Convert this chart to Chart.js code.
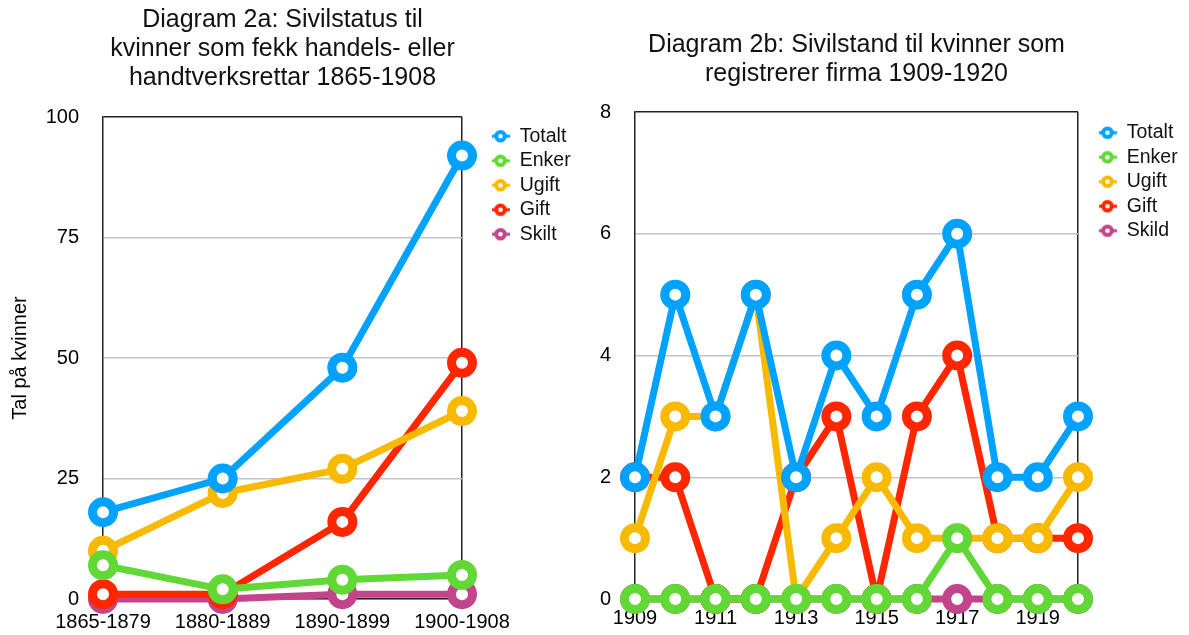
<!DOCTYPE html>
<html>
<head>
<meta charset="utf-8">
<script src="https://cdn.jsdelivr.net/npm/chart.js@4"></script>
<style>
  body { margin: 0; background: #fff; width: 1189px; height: 635px; position: relative; overflow: hidden; }
  canvas { position: absolute; top: 0; }
  #diagram2a { left: 0; }
  #diagram2b { left: 560px; }
</style>
</head>
<body>
<canvas id="diagram2a" width="590" height="635"></canvas>
<canvas id="diagram2b" width="629" height="635"></canvas>
<script>
// Diagram 2a: handels- eller handtverksrettar 1865-1908
const periodar = ["1865-1879", "1880-1889", "1890-1899", "1900-1908"];
const totaltA = [18, 25, 48, 92];
const enkerA = [7, 2, 4, 5];
const ugiftA = [10, 22, 27, 39];
const giftA = [1, 1, 16, 49];
const skiltA = [0, 0, 1, 1];
const yTicksA = [0, 25, 50, 75, 100];

// Diagram 2b: registrerte firma 1909-1920
const aar = ["1909", "1910", "1911", "1912", "1913", "1914", "1915", "1916", "1917", "1918", "1919", "1920"];
const totaltB = [2, 5, 3, 5, 2, 4, 3, 5, 6, 2, 2, 3];
const enkerB = [0, 0, 0, 0, 0, 0, 0, 0, 1, 0, 0, 0];
const ugiftB = [1, 3, 3, 5, 0, 1, 2, 1, 1, 1, 1, 2];
const giftB = [2, 2, 0, 0, 2, 3, 0, 3, 4, 1, 1, 1];
const skildB = [0, 0, 0, 0, 0, 0, 0, 0, 0, 0, 0, 0];
const yTicksB = [0, 2, 4, 6, 8];

const fargar = ["#00a2ff", "#61d836", "#f8ba00", "#ff2600", "#c2458b"];

Chart.defaults.font.family = '"Liberation Sans", Arial, Helvetica, sans-serif';
Chart.defaults.color = "#000";

// liten markør med strek på kvar side, som i originalen
function lagMerke(farge) {
    const c = document.createElement("canvas");
    c.width = 18;
    c.height = 16;
    const g = c.getContext("2d");
    g.strokeStyle = farge;
    g.lineWidth = 3;
    g.beginPath();
    g.moveTo(0, 8);
    g.lineTo(18, 8);
    g.stroke();
    g.beginPath();
    g.arc(9, 8, 4.3, 0, Math.PI * 2);
    g.fillStyle = "#fff";
    g.fill();
    g.lineWidth = 4;
    g.stroke();
    return c;
}
const merke = fargar.map(lagMerke);

function linje(namn, data, farge) {
    return {
        label: namn,
        data: data,
        borderColor: farge,
        backgroundColor: "#fff",
        pointBackgroundColor: "#fff",
        pointBorderColor: farge,
        borderWidth: 7,
        pointRadius: 10.5,
        pointHoverRadius: 10.5,
        pointBorderWidth: 9,
        borderJoinStyle: "round",
        borderCapStyle: "round",
        tension: 0,
        clip: false,
    };
}

// flyttar forklaringa litt til høgre/ned, og gjer boksen brei nok til teksten
const flyttForklaring = {
    id: "flyttForklaring",
    afterLayout(chart, args, opts) {
        const l = chart.legend;
        l.left += opts.dx;
        l.right += opts.dx + 120;
        l.width += 120;
        l.top += opts.dy;
        l.bottom += opts.dy;
    }
};

function lagDiagram(id, cfg) {
    const ctx = document.getElementById(id).getContext("2d");
    const sisteIndeks = cfg.kategoriar.length - 1;

    new Chart(ctx, {
        type: "line",
        data: {
            labels: cfg.kategoriar,
            datasets: cfg.seriar.map((s, i) => linje(s.namn, s.data, fargar[i])),
        },
        plugins: [flyttForklaring],
        options: {
            responsive: false,
            animation: false,
            events: [],
            layout: { padding: { left: 0, right: cfg.hogreMarg, top: 0, bottom: 0 } },
            plugins: {
                title: {
                    display: true,
                    text: cfg.tittel,
                    fullSize: false,
                    color: "#111",
                    font: { size: 25, weight: "normal", lineHeight: 29 / 25 },
                    padding: cfg.tittelPadding,
                },
                legend: {
                    position: "right",
                    align: "start",
                    fullSize: false,
                    maxWidth: 60,
                    labels: {
                        usePointStyle: true,
                        boxWidth: 19,
                        boxHeight: 8,
                        padding: 5,
                        color: "#111",
                        font: { size: 19.5 },
                        generateLabels(chart) {
                            const items = Chart.defaults.plugins.legend.labels.generateLabels(chart);
                            items.forEach(it => { it.pointStyle = merke[it.datasetIndex]; });
                            return items;
                        }
                    }
                },
                tooltip: { enabled: false },
                flyttForklaring: cfg.flytt,
            },
            scales: {
                x: {
                    offset: false,
                    grid: {
                        drawTicks: false,
                        lineWidth: 1.5,
                        color: c => c.index === sisteIndeks ? "#222" : "rgba(0,0,0,0)",
                    },
                    border: { color: "#222", width: 1.5 },
                    ticks: {
                        autoSkip: false,
                        maxRotation: 0,
                        padding: cfg.xPadding,
                        font: { size: 20 },
                        callback: (v, i) => (i % cfg.etikettSteg === 0 ? cfg.kategoriar[i] : ""),
                    },
                    afterFit: s => { s.height = 35; },
                },
                y: {
                    min: 0,
                    max: cfg.yTicks[cfg.yTicks.length - 1],
                    afterBuildTicks: s => { s.ticks = cfg.yTicks.map(v => ({ value: v })); },
                    grid: {
                        drawTicks: false,
                        lineWidth: 1.5,
                        color: c => c.tick && c.tick.value === cfg.yTicks[cfg.yTicks.length - 1] ? "#222" : "#c4c4c4",
                    },
                    border: { color: "#222", width: 1.5 },
                    ticks: { padding: 24, font: { size: 20 } },
                    title: {
                        display: !!cfg.yTittel,
                        text: cfg.yTittel || "",
                        font: { size: 20 },
                        padding: { top: 8, bottom: 4 },
                    },
                    afterFit: s => { s.width = cfg.yBreidd; },
                },
            },
        },
    });
}

lagDiagram("diagram2a", {
    kategoriar: periodar,
    seriar: [
        { namn: "Totalt", data: totaltA },
        { namn: "Enker", data: enkerA },
        { namn: "Ugift", data: ugiftA },
        { namn: "Gift", data: giftA },
        { namn: "Skilt", data: skiltA },
    ],
    yTicks: yTicksA,
    tittel: ["Diagram 2a: Sivilstatus til", "kvinner som fekk handels- eller", "handtverksrettar 1865-1908"],
    tittelPadding: { top: 6, bottom: 24 },
    yTittel: "Tal på kvinner",
    yBreidd: 103,
    hogreMarg: 68,
    etikettSteg: 1,
    xPadding: 11,
    flytt: { dx: 24, dy: 4.5 },
});

lagDiagram("diagram2b", {
    kategoriar: aar,
    seriar: [
        { namn: "Totalt", data: totaltB },
        { namn: "Enker", data: enkerB },
        { namn: "Ugift", data: ugiftB },
        { namn: "Gift", data: giftB },
        { namn: "Skild", data: skildB },
    ],
    yTicks: yTicksB,
    tittel: ["Diagram 2b: Sivilstand til kvinner som", "registrerer firma 1909-1920"],
    tittelPadding: { top: 31, bottom: 23 },
    yTittel: "",
    yBreidd: 75,
    hogreMarg: 51,
    etikettSteg: 2,
    xPadding: 7,
    flytt: { dx: 15, dy: 6 },
});
</script>
</body>
</html>
